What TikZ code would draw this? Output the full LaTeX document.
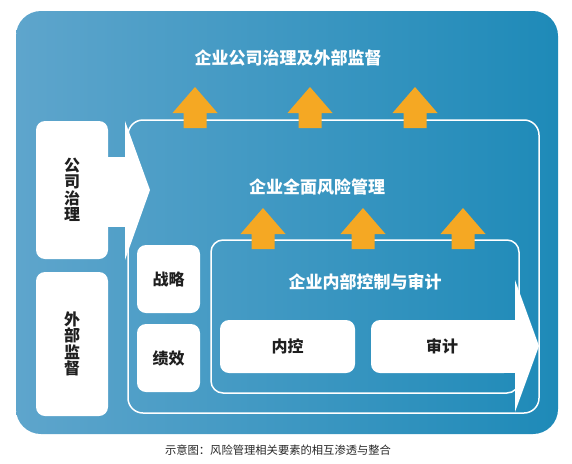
\documentclass[tikz,border=0pt]{standalone}
\usepackage{fontspec}
\newfontfamily\cjk{Noto Sans CJK SC}
\definecolor{bgLeft}{RGB}{94,165,204}
\definecolor{bgRight}{RGB}{30,138,184}
\definecolor{arrowOrange}{RGB}{245,168,35}
\tikzset{
  panel/.style={fill=white, rounded corners=9pt, inner sep=0pt, align=center, text=black!88, font=\cjk\bfseries\fontsize{16}{16.5}\selectfont},
  frame/.style={draw=white, line width=1.5pt},
  heading/.style={text=white, inner sep=0pt, font=\cjk\bfseries\fontsize{17}{20}\selectfont}
}
\begin{document}
\begin{tikzpicture}[x=1pt,y=-1pt]
\useasboundingbox (0,0) rectangle (572,463);

% background
\shade[left color=bgLeft, right color=bgRight, rounded corners=25pt] (16,11) rectangle (558,434);

% frames
\draw[frame, rounded corners=15pt] (128,120) rectangle (539,413);
\draw[frame, rounded corners=12pt] (211,240) rectangle (519,393);

\node[heading] (topTitle) at (288,58) {企业公司治理及外部监督};
\node[heading] (ermTitle) at (317,187) {企业全面风险管理};
\node[heading] (icTitle) at (365,282) {企业内部控制与审计};

% orange arrows
\foreach \x/\y in {195/87, 310/87, 415/87, 263/208, 363/208, 463/208}
  \fill[arrowOrange] (\x,\y) -- ++(22.5,26) -- ++(-11,0) -- ++(0,15) -- ++(-23,0) -- ++(0,-15) -- ++(-11,0) -- cycle;

% left column
\node[panel, minimum width=72pt, minimum height=138pt] (gov) at (72,190) {公\\司\\治\\理};
\fill[white] (100,157) rectangle (126,227);
\fill[white] (125,121) -- (150,190) -- (125,260) -- cycle;
\node[panel, minimum width=72pt, minimum height=144pt] (ext) at (72,344) {外\\部\\监\\督};

\node[panel, minimum width=63pt, minimum height=68pt] (strat) at (168.5,279) {战略};
\node[panel, minimum width=63pt, minimum height=68pt] (perf) at (168.5,358) {绩效};

% bottom row
\node[panel, minimum width=135pt, minimum height=53pt] (ic) at (287.5,346.5) {内控};
\node[panel, minimum width=142pt, minimum height=53pt] (audit) at (442,346.5) {};
\fill[white] (audit.north) rectangle (516,373);
\fill[white] (515,280) -- (539,346) -- (515,412) -- cycle;
\node[panel, fill=none] at (audit.center) {审计};

\node[font=\cjk\fontsize{11.3}{13}\selectfont, text=black!85] (caption) at (278,450) {示意图：风险管理相关要素的相互渗透与整合};
\end{tikzpicture}
\end{document}
